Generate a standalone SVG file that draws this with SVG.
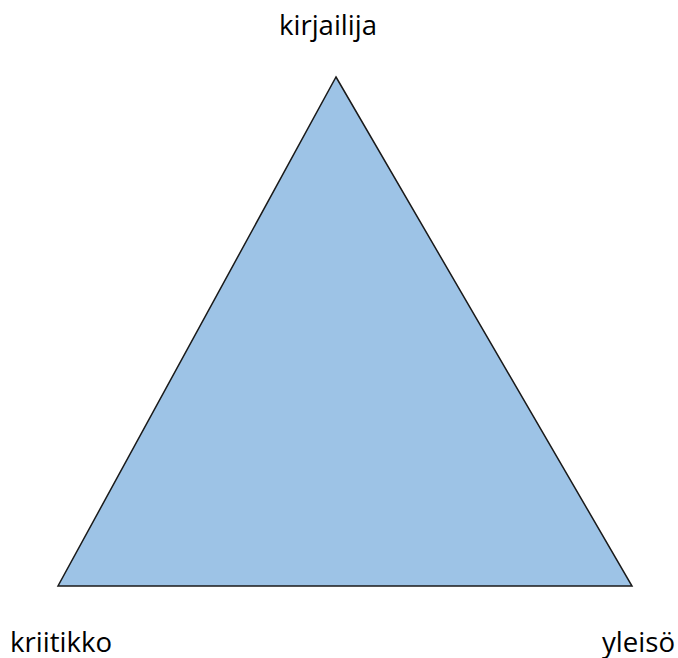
<svg xmlns="http://www.w3.org/2000/svg" width="678" height="658" viewBox="0 0 678 658">
<style>
.lbl{font-family:"Open Sans","Liberation Sans",sans-serif;font-size:26.5px;fill:#000}
.tri{fill:#9DC3E6;stroke:#1a1a1a;stroke-width:1.5;stroke-linejoin:miter}
</style>
<rect width="678" height="658" fill="#fff"/>
<g id="triangle"><polygon class="tri" points="336,77 632,586 58,586"/></g>
<g id="kirjailija"><text class="lbl" x="279" y="35" textLength="98" lengthAdjust="spacingAndGlyphs">kirjailija</text></g>
<g id="kriitikko"><text class="lbl" x="10" y="652" textLength="102" lengthAdjust="spacingAndGlyphs">kriitikko</text></g>
<g id="yleiso"><text class="lbl" x="602" y="652" textLength="73" lengthAdjust="spacingAndGlyphs">yleisö</text></g>
<g id="connectors"></g>
</svg>
